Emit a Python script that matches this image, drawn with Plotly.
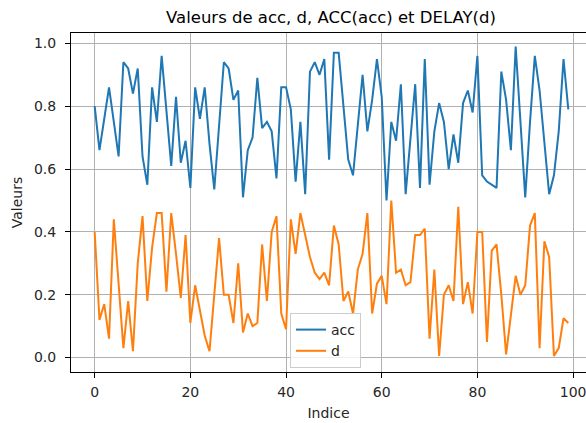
import plotly.graph_objects as go

indices = list(range(100))

acc = [0.80, 0.66, 0.76, 0.86, 0.75, 0.64, 0.94, 0.92, 0.84, 0.92,
       0.64, 0.55, 0.86, 0.75, 0.96, 0.78, 0.61, 0.83, 0.62, 0.69,
       0.54, 0.86, 0.76, 0.86, 0.68, 0.535, 0.73, 0.94, 0.92, 0.82,
       0.85, 0.51, 0.66, 0.70, 0.89, 0.73, 0.75, 0.72, 0.57, 0.86,
       0.86, 0.79, 0.56, 0.75, 0.52, 0.91, 0.94, 0.90, 0.95, 0.63,
       0.97, 0.97, 0.80, 0.63, 0.58, 0.74, 0.90, 0.72, 0.82, 0.95,
       0.83, 0.50, 0.75, 0.69, 0.87, 0.52, 0.70, 0.87, 0.54, 0.95,
       0.55, 0.72, 0.81, 0.75, 0.60, 0.71, 0.62, 0.81, 0.85, 0.78,
       0.96, 0.58, 0.56, 0.55, 0.54, 0.91, 0.82, 0.66, 0.99, 0.75,
       0.51, 0.75, 0.96, 0.85, 0.68, 0.52, 0.58, 0.72, 0.95, 0.79]

d = [0.40, 0.12, 0.17, 0.06, 0.44, 0.24, 0.03, 0.18, 0.02, 0.30,
     0.45, 0.18, 0.35, 0.46, 0.46, 0.21, 0.46, 0.33, 0.19, 0.39,
     0.11, 0.23, 0.15, 0.07, 0.02, 0.20, 0.38, 0.20, 0.20, 0.11,
     0.30, 0.08, 0.14, 0.10, 0.11, 0.36, 0.18, 0.40, 0.45, 0.14,
     0.09, 0.44, 0.33, 0.46, 0.39, 0.32, 0.27, 0.25, 0.27, 0.23,
     0.42, 0.36, 0.18, 0.21, 0.14, 0.28, 0.33, 0.46, 0.14, 0.235,
     0.26, 0.17, 0.50, 0.27, 0.28, 0.23, 0.24, 0.39, 0.39, 0.41,
     0.06, 0.28, 0.005, 0.20, 0.23, 0.18, 0.48, 0.17, 0.24, 0.14,
     0.40, 0.40, 0.05, 0.34, 0.36, 0.20, 0.01, 0.13, 0.26, 0.20,
     0.23, 0.42, 0.46, 0.03, 0.37, 0.32, 0.005, 0.03, 0.125, 0.11]

x_ticks = [0, 20, 40, 60, 80, 100]
y_ticks = [0.0, 0.2, 0.4, 0.6, 0.8, 1.0]
y_tick_labels = ["0.0", "0.2", "0.4", "0.6", "0.8", "1.0"]

FONT = "DejaVu Sans"

fig = go.Figure()
fig.add_trace(go.Scatter(x=indices, y=acc, mode="lines", name="acc",
                         line=dict(color="#1f77b4", width=2)))
fig.add_trace(go.Scatter(x=indices, y=d, mode="lines", name="d",
                         line=dict(color="#ff7f0e", width=2)))

fig.update_layout(
    width=586, height=423,
    margin=dict(l=71, r=0, t=33, b=51),
    paper_bgcolor="white", plot_bgcolor="white",
    font=dict(family=FONT, size=14, color="#262626"),
    title=dict(text="Valeurs de acc, d, ACC(acc) et DELAY(d)",
               x=331 / 586, xref="container", xanchor="center",
               y=1 - 17 / 423, yref="container", yanchor="middle",
               font=dict(family=FONT, size=16.5, color="black")),
    showlegend=True,
    legend=dict(x=(290 - 71) / 515, y=(372 - 313) / 339,
                xanchor="left", yanchor="top",
                bgcolor="rgba(255,255,255,0.8)", bordercolor="#cccccc",
                borderwidth=1, font=dict(family=FONT, size=14, color="#262626")),
)

fig.update_xaxes(
    range=[-4.95, 102.7], tickvals=x_ticks, ticks="outside", ticklen=5,
    tickcolor="black", tickwidth=1, showline=True, linecolor="black",
    linewidth=1, mirror=True, showgrid=True, gridcolor="#b0b0b0",
    gridwidth=1, zeroline=False, tickfont=dict(size=14, color="#262626"),
    ticklabeloverflow="allow", ticklabelstandoff=2,
    title=dict(text="Indice", font=dict(size=14, color="#262626"), standoff=9),
)
fig.update_yaxes(
    range=[-0.046, 1.033], tickvals=y_ticks, ticktext=y_tick_labels,
    ticks="outside", ticklen=5, tickcolor="black", tickwidth=1,
    showline=True, linecolor="black", linewidth=1, mirror=False,
    showgrid=True, gridcolor="#b0b0b0", gridwidth=1, zeroline=False,
    tickfont=dict(size=14, color="#262626"), ticklabelstandoff=6,
    title=dict(text="Valeurs", font=dict(size=14, color="#262626"), standoff=8),
)

fig.write_html("out.html")
